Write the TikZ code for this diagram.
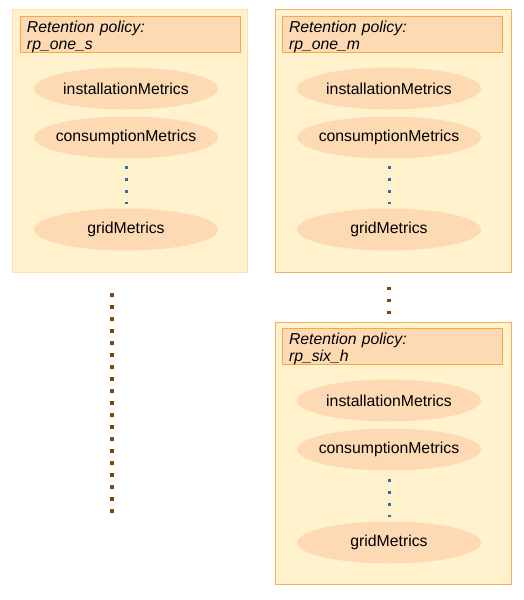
\documentclass[tikz,border=0pt]{standalone}
\usepackage{fontspec}
\setmainfont{Liberation Sans}
\definecolor{boxfill}{HTML}{FFF2CC}
\definecolor{boxlineL}{HTML}{FFDFB3}
\definecolor{boxlineR}{HTML}{F8AE5E}
\definecolor{headfill}{HTML}{FDDAB4}
\definecolor{headline}{HTML}{F9A848}
\definecolor{dotblue}{HTML}{3A66AA}
\definecolor{dotbrown}{HTML}{7F4510}
\newcommand{\hdstrut}{\rule{0pt}{16pt}}
\tikzset{
  outerbox/.style={draw=boxlineR, line width=1pt, fill=boxfill, rectangle, minimum width=236pt, minimum height=263pt, inner sep=0pt},
  outerboxL/.style={outerbox, draw=boxlineL, minimum width=235pt},
  headbox/.style={draw=headline, line width=1pt, fill=headfill, rectangle, minimum width=220pt, minimum height=35pt, text width=206pt, inner xsep=7pt, inner ysep=0pt, align=left, font=\fontsize{15.8}{17.5}\selectfont\itshape},
  metric/.style={ellipse, fill=headfill, minimum width=184pt, minimum height=42pt, inner xsep=-14pt, inner ysep=0pt, font=\fontsize{15.8}{18}\selectfont},
  bluedots/.style={draw=dotblue, line width=3pt, dash pattern=on 3pt off 9pt},
  browndots/.style={draw=dotbrown, line width=3.5pt, dash pattern=on 3.5pt off 8.5pt}
}
\usetikzlibrary{shapes.geometric}
\begin{document}
\begin{tikzpicture}[x=1pt, y=-1pt]
\useasboundingbox (0,0) rectangle (524,600);
% left column
\node[outerboxL] (boxL) at (129.5,140.5) {};
\node[headbox] (headL) at (130,34.5) {\hdstrut Retention policy:\\rp\_one\_s};
\node[metric] (instL) at (126,88.5) {installationMetrics};
\node[metric] (consL) at (126,137.5) {consumptionMetrics};
\node[metric] (gridL) at (126,229.5) {gridMetrics};
\draw[bluedots, shorten <=7pt, shorten >=4pt] (consL.south) -- (gridL.north);
\coordinate (ltop) at (112,272);
\coordinate (lbot) at (112,520);
\draw[browndots, shorten <=21pt, shorten >=7.5pt] (ltop) -- (lbot);
% right top
\node[outerbox] (boxR1) at (393,140.5) {};
\node[headbox] (headR1) at (392,34.5) {\hdstrut Retention policy:\\rp\_one\_m};
\node[metric] (instR1) at (389,88.5) {installationMetrics};
\node[metric] (consR1) at (389,137.5) {consumptionMetrics};
\node[metric] (gridR1) at (389,229.5) {gridMetrics};
\draw[bluedots, shorten <=7pt, shorten >=4pt] (consR1.south) -- (gridR1.north);
% right bottom
\node[outerbox, minimum height=262pt] (boxR2) at (393,453) {};
\node[headbox] (headR2) at (392,346.5) {\hdstrut Retention policy:\\rp\_six\_h};
\node[metric] (instR2) at (389,400.5) {installationMetrics};
\node[metric] (consR2) at (389,449.5) {consumptionMetrics};
\node[metric] (gridR2) at (389,542.5) {gridMetrics};
\draw[bluedots, shorten <=8pt, shorten >=4pt] (consR2.south) -- (gridR2.north);
\coordinate (r1b) at (389,272);
\coordinate (r2t) at (389,322);
\draw[browndots, shorten <=14.5pt, shorten >=8.5pt] (r1b) -- (r2t);
\end{tikzpicture}
\end{document}
